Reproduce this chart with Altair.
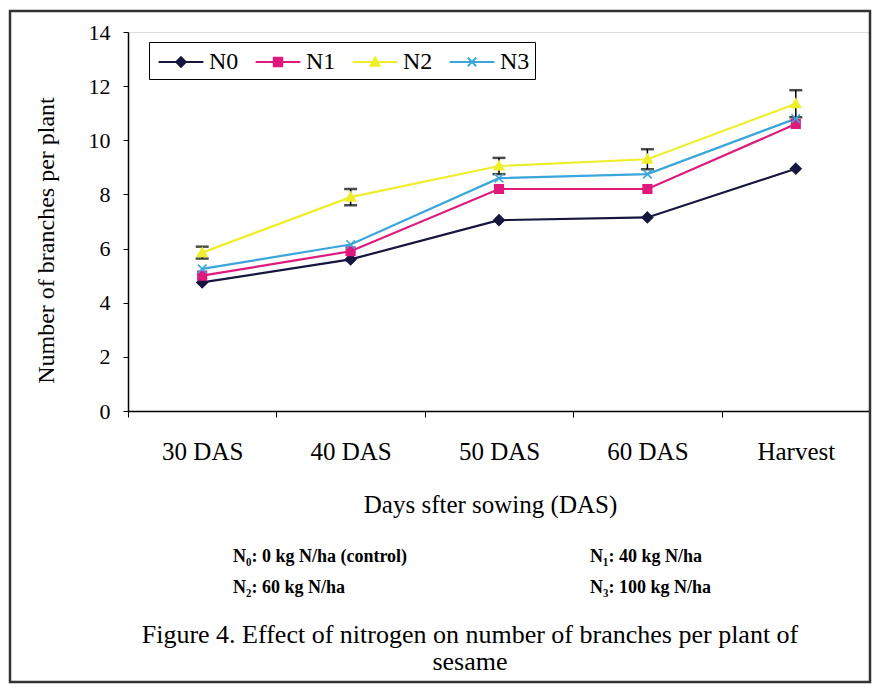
import altair as alt
import pandas as pd

# ---------------- data ----------------
categories = ["30 DAS", "40 DAS", "50 DAS", "60 DAS", "Harvest"]
series_names = ["N0", "N1", "N2", "N3"]
n0 = [4.75, 5.6, 7.05, 7.15, 8.95]
n1 = [5.0, 5.9, 8.2, 8.2, 10.6]
n2 = [5.85, 7.9, 9.05, 9.3, 11.35]
n3 = [5.25, 6.15, 8.6, 8.75, 10.8]
n2_err = [0.22, 0.3, 0.3, 0.37, 0.5]

colors = ["#16163e", "#e0197d", "#eeee2a", "#3aa6dc"]
point_paths = [
    "M0,-1.1L1.1,0L0,1.1L-1.1,0Z",
    "M-0.9,-0.9H0.9V0.9H-0.9Z",
    "M0,-1L1,0.8H-1Z",
    "M-0.9,-0.9L0.9,0.9M0.9,-0.9L-0.9,0.9",
]
legend_paths = [
    "M-1.6,0H1.6M0,-0.34L0.34,0L0,0.34L-0.34,0Z",
    "M-1.6,0H1.6M-0.3,-0.3H0.3V0.3H-0.3Z",
    "M-1.6,0H1.6M0,-0.32L0.32,0.26H-0.32Z",
    "M-1.6,0H1.6M-0.3,-0.3L0.3,0.3M0.3,-0.3L-0.3,0.3",
]

axis_title = "Number of branches per plant"
x_title = "Days sfter sowing (DAS)"
foot_left = ["N\u2080: 0 kg N/ha (control)", "N\u2082: 60 kg N/ha"]
foot_right = ["N\u2081: 40 kg N/ha", "N\u2083: 100 kg N/ha"]
caption = ["Figure 4. Effect of nitrogen on number of branches per plant of", "sesame"]

rows = []
for name, vals in zip(series_names, [n0, n1, n2, n3]):
    for c, v in zip(categories, vals):
        rows.append({"stage": c, "series": name, "value": v})
df = pd.DataFrame(rows)
err_df = pd.DataFrame({
    "stage": categories,
    "lo": [v - e for v, e in zip(n2, n2_err)],
    "hi": [v + e for v, e in zip(n2, n2_err)],
})

FONT = "Liberation Serif, Times New Roman, serif"
W, H = 742, 379

xenc = alt.X(
    "stage:N", sort=categories,
    scale=alt.Scale(paddingInner=0, paddingOuter=0),
    axis=alt.Axis(
        title=x_title, labelAngle=0, tickBand="extent", tickSize=6,
        labelPadding=22, titlePadding=28, titleX=362,
        labelFontSize=25, titleFontSize=25, labelFont=FONT, titleFont=FONT,
        labelColor="black", titleColor="black", titleFontWeight="normal",
        domainColor="black", tickColor="black", domainWidth=1.5,
    ),
)
yenc = alt.Y(
    "value:Q",
    scale=alt.Scale(domain=[0, 14], nice=False),
    axis=alt.Axis(
        title=axis_title, values=list(range(0, 15, 2)), grid=False,
        tickSize=5, labelPadding=13, titlePadding=30, titleY=208,
        labelFontSize=22, titleFontSize=24, labelFont=FONT, titleFont=FONT,
        labelColor="black", titleColor="black", titleFontWeight="normal",
        domainColor="black", tickColor="black", domainWidth=1.5,
    ),
)
color_scale = alt.Scale(domain=series_names, range=colors)

legend_def = alt.Legend(
    title=None, orient="none", legendX=21, legendY=10,
    direction="horizontal", columns=4,
    symbolSize=784, symbolStrokeWidth=2, symbolOffset=12,
    labelFont=FONT, labelFontSize=24, labelColor="black",
    labelOffset=13, columnPadding=12, padding=5,
    strokeColor="black", fillColor="white",
)

base = alt.Chart(df)

# legend-carrying layer (draws no marks; its scales make the legend)
legend_layer = (
    base.transform_filter("false")
    .mark_point(strokeWidth=2, opacity=1)
    .encode(
        x=xenc, y=yenc,
        fill=alt.Fill("series:N", scale=color_scale, legend=legend_def),
        stroke=alt.Stroke("series:N", scale=color_scale, legend=legend_def),
        shape=alt.Shape("series:N", scale=alt.Scale(domain=series_names, range=legend_paths),
                        legend=legend_def),
    )
)

lines = base.mark_line(strokeWidth=2.2).encode(
    x=xenc, y=yenc,
    stroke=alt.Stroke("series:N", scale=color_scale, legend=legend_def),
)

points = []
for name, path in zip(series_names, point_paths):
    points.append(
        base.transform_filter(alt.datum.series == name)
        .mark_point(shape=path, size=90, strokeWidth=1.6, opacity=1)
        .encode(
            x=xenc, y=yenc,
            fill=alt.Fill("series:N", scale=color_scale, legend=legend_def),
            stroke=alt.Stroke("series:N", scale=color_scale, legend=legend_def),
        )
    )

err_rule = alt.Chart(err_df).mark_rule(color="black", strokeWidth=1.5).encode(
    x=xenc, y=alt.Y("lo:Q"), y2="hi:Q"
)
err_cap_lo = alt.Chart(err_df).mark_tick(color="black", size=13, thickness=2.5).encode(
    x=xenc, y=alt.Y("lo:Q")
)
err_cap_hi = alt.Chart(err_df).mark_tick(color="black", size=13, thickness=2.5).encode(
    x=xenc, y=alt.Y("hi:Q")
)

one = pd.DataFrame({"k": [0]})


def txt(s, x, y, size, align="left", weight="normal"):
    return alt.Chart(pd.DataFrame({"t": [s]})).mark_text(
        font=FONT, fontSize=size, align=align, baseline="middle",
        color="black", fontWeight=weight,
    ).encode(x=alt.value(x), y=alt.value(y), text="t:N")


texts = [
    txt(foot_left[0], 105, 525, 18, weight="bold"),
    txt(foot_left[1], 105, 556, 18, weight="bold"),
    txt(foot_right[0], 462, 525, 18, weight="bold"),
    txt(foot_right[1], 462, 556, 18, weight="bold"),
    txt(caption[0], 342, 603, 26, align="center"),
    txt(caption[1], 342, 630, 26, align="center"),
]

frame = alt.Chart(one).mark_rect(filled=False, stroke="#333333", strokeWidth=2.5).encode(
    x=alt.value(-118), x2=alt.value(742), y=alt.value(-21), y2=alt.value(650)
)

chart = alt.layer(
    legend_layer, frame, lines, err_rule, err_cap_lo, err_cap_hi, *points, *texts
).properties(
    width=W, height=H,
    autosize=alt.AutoSizeParams(type="none"),
    padding={"left": 120, "top": 24, "right": 2, "bottom": 273},
).configure_view(stroke="#888888", strokeWidth=1).configure(background="white")

chart.save("out.html", embed_options={"renderer": "svg", "actions": False})
